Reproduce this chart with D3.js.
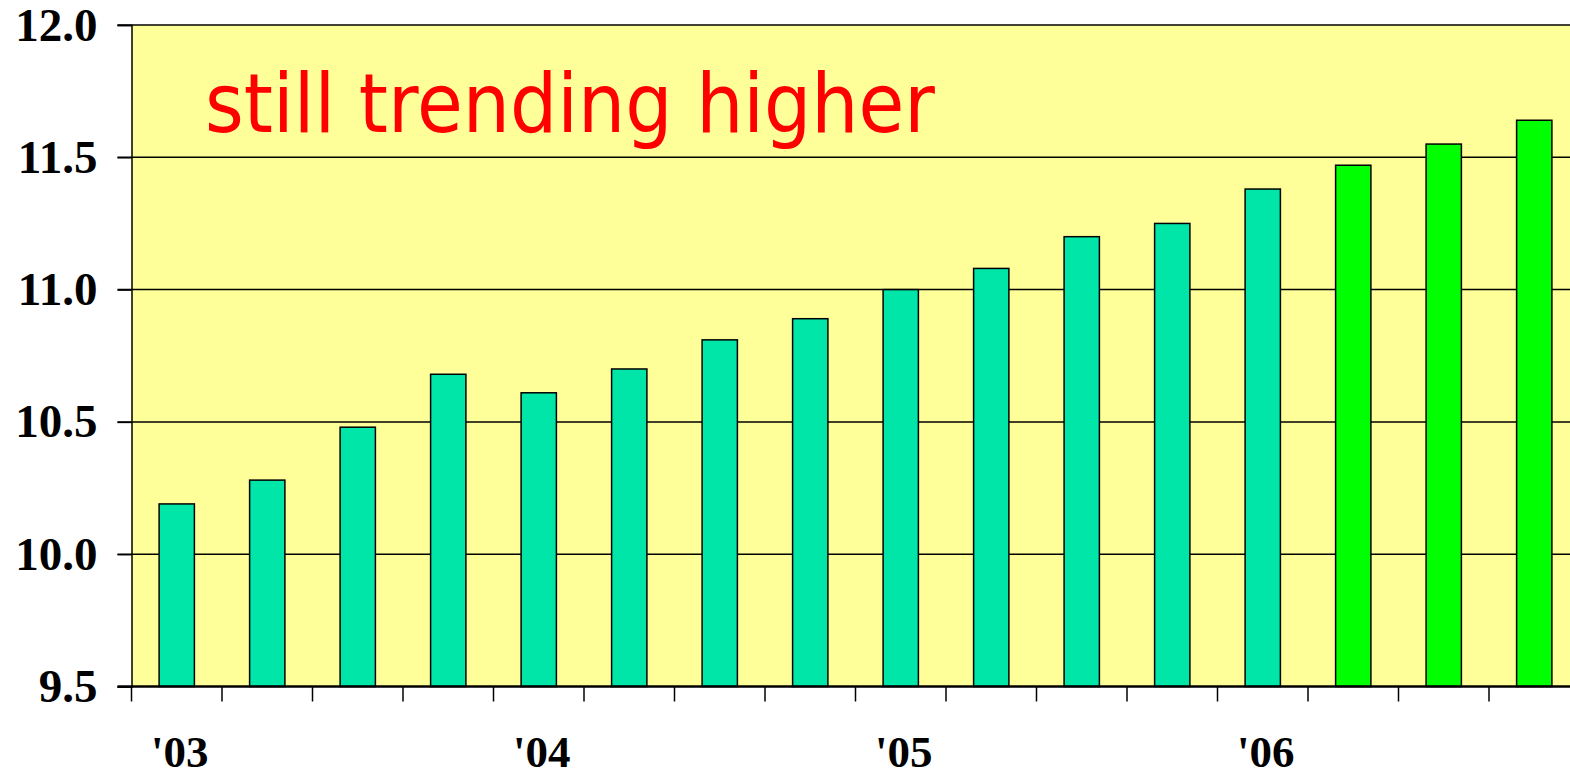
<!DOCTYPE html>
<html>
<head>
<meta charset="utf-8">
<script src="https://cdn.jsdelivr.net/npm/d3@7"></script>
<style>
  body { margin: 0; background: #fff; }
  svg { display: block; overflow: hidden; }
</style>
</head>
<body>
<svg id="chart" width="1570" height="774"></svg>
<script>
const quarters = ["2003Q1", "2003Q2", "2003Q3", "2003Q4",
                  "2004Q1", "2004Q2", "2004Q3", "2004Q4",
                  "2005Q1", "2005Q2", "2005Q3", "2005Q4",
                  "2006Q1", "2006Q2", "2006Q3", "2006Q4"];
const values = [10.19, 10.28, 10.48, 10.68, 10.61, 10.70, 10.81, 10.89,
                11.00, 11.08, 11.20, 11.25, 11.38, 11.47, 11.55, 11.64];
const forecast = [false, false, false, false, false, false, false, false,
                  false, false, false, false, false, true, true, true];
const yearLabels = { "2003Q1": "'03", "2004Q1": "'04", "2005Q1": "'05", "2006Q1": "'06" };
const yTicks = [9.5, 10.0, 10.5, 11.0, 11.5, 12.0];
const title = "still trending higher";

const margin = { top: 25, left: 131.5 };
const plotRight = 1579.5;
const plotBottom = 686.5;

const svg = d3.select("#chart");

const x = d3.scaleBand()
    .domain(quarters)
    .range([margin.left, plotRight])
    .paddingInner(0.61)
    .paddingOuter(0.305);

const cell = d3.scaleBand()
    .domain(quarters)
    .range([margin.left, plotRight])
    .padding(0);

const y = d3.scaleLinear()
    .domain([9.5, 12.0])
    .range([plotBottom, margin.top]);

// plot background
svg.append("rect")
    .attr("x", margin.left)
    .attr("y", margin.top)
    .attr("width", plotRight - margin.left)
    .attr("height", plotBottom - margin.top)
    .attr("fill", "#ffff99");

// gridlines
svg.append("g")
    .selectAll("line")
    .data(yTicks.filter(d => d > 9.5))
    .enter().append("line")
    .attr("x1", margin.left - 14)
    .attr("x2", plotRight)
    .attr("y1", d => y(d))
    .attr("y2", d => y(d))
    .attr("stroke", "#000")
    .attr("stroke-width", 1.5);

// title
svg.append("text")
    .attr("x", 205)
    .attr("y", 132)
    .attr("font-family", "DejaVu Sans")
    .attr("font-size", 82)
    .attr("fill", "#ff0000")
    .attr("textLength", 730)
    .attr("lengthAdjust", "spacingAndGlyphs")
    .text(title);

// bars
svg.append("g")
    .selectAll(".bar")
    .data(quarters)
    .enter().append("rect")
    .attr("class", "bar")
    .attr("x", d => x(d))
    .attr("width", x.bandwidth())
    .attr("y", (d, i) => y(values[i]))
    .attr("height", (d, i) => plotBottom - y(values[i]))
    .attr("fill", (d, i) => forecast[i] ? "#00ff00" : "#00e6a8")
    .attr("stroke", "#000")
    .attr("stroke-width", 1.5);

// y axis
const yAxis = svg.append("g")
    .attr("transform", `translate(${margin.left}, 0)`)
    .call(d3.axisLeft(y).tickValues(yTicks).tickSize(14).tickPadding(20).tickFormat(d3.format(".1f")));
yAxis.select(".domain").attr("stroke-width", 1.5);
yAxis.selectAll(".tick line").attr("stroke-width", 1.5);
yAxis.selectAll("text")
    .attr("font-family", "Liberation Serif, Times New Roman, serif")
    .attr("font-weight", "bold")
    .attr("font-size", 47)
    .attr("fill", "#000");

// x axis
const xAxis = svg.append("g")
    .attr("transform", `translate(0, ${plotBottom})`);
xAxis.append("line")
    .attr("x1", margin.left - 14)
    .attr("x2", plotRight)
    .attr("stroke", "#000")
    .attr("stroke-width", 2.5);
xAxis.selectAll(".tick")
    .data(quarters)
    .enter().append("line")
    .attr("class", "tick")
    .attr("x1", d => cell(d))
    .attr("x2", d => cell(d))
    .attr("y1", 0)
    .attr("y2", 15)
    .attr("stroke", "#000")
    .attr("stroke-width", 1.5);
xAxis.selectAll(".label")
    .data(quarters.filter(d => yearLabels[d]))
    .enter().append("text")
    .attr("class", "label")
    .attr("x", d => x(d) + x.bandwidth() / 2 + 3)
    .attr("y", 80)
    .attr("text-anchor", "middle")
    .attr("font-family", "Liberation Serif, Times New Roman, serif")
    .attr("font-weight", "bold")
    .attr("font-size", 45)
    .text(d => yearLabels[d]);
</script>
</body>
</html>
